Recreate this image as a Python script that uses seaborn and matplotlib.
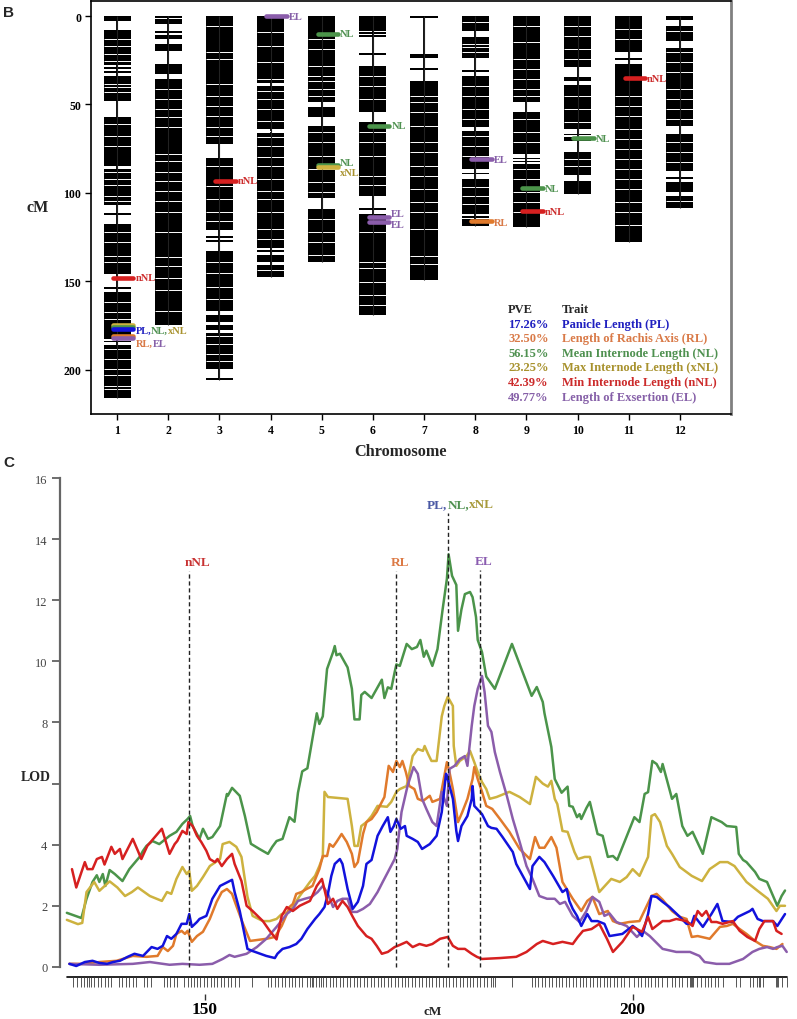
import numpy as np
import pandas as pd
import matplotlib
matplotlib.use('Agg')
import matplotlib.pyplot as plt
import matplotlib.transforms as mtransforms
import seaborn as sns

# ---------------- data: panel B (genetic map) ----------------
chromosomes = [1, 2, 3, 4, 5, 6, 7, 8, 9, 10, 11, 12]

chr1_blocks = [(0, 3), (7.7, 27.5), (28.8, 29.8), (31, 32), (33.7, 47.8), (57, 84.6), (86.4, 107),
               (111.5, 112.5), (117.5, 145.8), (153.3, 154.2), (155.8, 182.5), (183.5, 184.3), (186, 216)]
chr2_blocks = [(0, 1), (1.8, 4.5), (8.5, 9.5), (10.5, 13), (16, 19.5), (27, 33), (35.6, 174.6)]
chr3_blocks = [(0, 72.3), (80, 121), (124.5, 125.5), (126.5, 128), (133, 167), (169, 173), (174.5, 177.5),
               (179, 199.5), (204.5, 205.5)]
chr4_blocks = [(0, 38), (39.5, 64), (66, 131), (132.5, 133.5), (135, 139), (140.5, 147.5)]
chr5_blocks = [(0, 33.7), (34.5, 48.6), (51.6, 57), (62, 103), (109, 138.8)]
chr6_blocks = [(0, 8.3), (9, 10), (11, 12), (21, 22), (28, 54), (60, 101.5), (108.5, 109.5), (112, 169)]
chr7_blocks = [(0, 1), (21.5, 24), (29.5, 30.5), (36.5, 149.5)]
chr8_blocks = [(0, 8.3), (12, 24), (30.5, 31.5), (33.7, 63), (65, 86.4), (88.5, 89.5), (92, 112), (113, 114),
               (114.7, 118.5)]
chr9_blocks = [(0, 48.8), (54.4, 78), (80, 80.8), (82, 82.8), (83.6, 119)]
chr10_blocks = [(0, 29), (34.6, 36.5), (39, 63.8), (66.7, 67.5), (68.5, 70.4), (76.7, 90), (93, 100.5)]
chr11_blocks = [(0, 20.5), (24, 25), (27, 127.5)]
chr12_blocks = [(0, 2), (5.5, 14), (18, 62), (66.7, 87.4), (91, 92), (94, 99.5), (101.5, 108.6)]

chr1_white = [13, 16.8, 21.5, 25.2, 38.4, 40.3, 43.1, 61, 67.6, 73.2, 88.3, 92, 95.8, 101.5, 104.3, 122, 128,
              135.4, 139.2, 161.8, 167.4, 171.2, 188.1, 193.8, 199.4, 203.2, 208.9, 210.7]
chr2_white = [41.3, 47, 52.5, 57.3, 62.9, 78, 81.7, 88.3, 93, 98.7, 104.3, 110.9, 122.2, 136, 141.6, 148.2, 155, 167]
chr3_white = [5.5, 20.5, 24.3, 38.4, 45, 50.7, 56.3, 62.9, 67.6, 84.6, 95.9, 103.4, 110.9, 115.6, 139, 145,
              153.3, 160, 181, 185.6, 191, 195]
chr4_white = [9.2, 16.8, 26.2, 35.6, 42.2, 47, 52.5, 59.1, 65.2, 68.5, 73.2, 79.8, 84.6, 92, 98.7, 103.4, 110.9,
              120.3, 126, 143.5]
chr5_white = [13, 18.6, 28, 37, 41, 45, 65.7, 71.4, 78.9, 86.4, 94, 99.6, 114.7, 122.2, 127.9, 135]
chr6_white = [33.7, 39.4, 46.9, 65.7, 71.4, 78.9, 90.2, 95.8, 122.2, 139, 142.7, 150.3, 157.8, 163.5]
chr7_white = [45, 48.8, 54.4, 62, 71.4, 77, 84.6, 90.2, 97.7, 105.3, 110.9, 120.3, 135.4, 140]
chr8_white = [3.6, 15.8, 17.7, 20.5, 39.4, 45, 52.5, 58.2, 67.6, 73.2, 78.9, 96.8, 101.5, 106.2]
chr9_white = [5.5, 14.9, 24.3, 29.9, 35.6, 41.3, 45, 58.2, 65.7, 71.4, 86.4, 92, 99.6, 105.3, 110.9]
chr10_white = [5.5, 11.1, 18.6, 24.3, 45, 52.5, 60.1, 80.8, 84.6]
chr11_white = [7.4, 13, 45, 50.7, 56.3, 63.8, 69.5, 75.1, 80.8, 86.4, 92, 97.7, 105.3, 110.9, 118.4]
chr12_white = [8.5, 20.5, 26.2, 31.8, 41.3, 47, 52.5, 58.2, 71.4, 77, 82.7, 104.5]

qtl_b_chrom = [1, 1, 1, 1, 1, 1, 3, 4, 5, 5, 5, 6, 6, 6, 8, 8, 9, 9, 10, 11]
qtl_b_pos = [148.0, 174.6, 175.6, 176.7, 180.8, 181.8, 93.0, 0.0, 10.0, 84.0, 85.6, 62.0, 113.4, 116.3,
             81.0, 116.0, 97.4, 110.5, 69.0, 35.2]
qtl_b_trait = ['nNL', 'xNL', 'NL', 'PL', 'RL', 'EL', 'nNL', 'EL', 'NL', 'NL', 'xNL', 'NL', 'EL', 'EL',
               'EL', 'RL', 'NL', 'nNL', 'NL', 'nNL']

lab_b_chrom = [1, 1, 1, 3, 4, 5, 5, 5, 6, 6, 6, 8, 8, 9, 9, 10, 11]
lab_b_pos = [148.0, 177.6, 185.0, 93.0, 0.0, 10.0, 82.8, 88.3, 62.0, 111.5, 118.0, 81.0, 116.5, 97.4, 110.5,
             69.0, 35.2]
lab_b_text = ['nNL', 'PL,NL,xNL', 'RL,EL', 'nNL', 'EL', 'NL', 'NL', 'xNL', 'NL', 'EL', 'EL', 'EL', 'RL', 'NL',
              'nNL', 'NL', 'nNL']

legend_pve = ['17.26%', '32.50%', '56.15%', '23.25%', '42.39%', '49.77%']
legend_names = ['Panicle Length (PL)', 'Length of Rachis Axis (RL)', 'Mean Internode Length (NL)',
                'Max Internode Length (xNL)', 'Min Internode Length (nNL)', 'Length of Exsertion (EL)']

# ---------------- data: panel C (LOD profiles, chromosome 1) ----------------
traits = ['PL', 'RL', 'NL', 'xNL', 'nNL', 'EL']
line_colors = ['#1212dc', '#e07a2c', '#4b944a', '#cdb23f', '#d62020', '#8b5dab']
text_colors = ['#2020c0', '#d97a48', '#4f9150', '#a8922e', '#cc2b2b', '#8660a8']
c_label_colors = ['#4a58a4', '#dc7a46', '#4f9150', '#a89a3a', '#c83232', '#8a5cb0']

pl_cm = [134.2, 135.0, 136.0, 136.9, 137.7, 138.6, 139.3, 140.1, 141.0, 141.8, 142.8, 143.8, 144.5, 145.1, 145.6,
         146.1, 146.7, 147.3, 147.9, 148.2, 148.5, 149.1, 149.4, 150.2, 150.9, 151.8, 152.7, 153.2, 153.5, 154.1,
         155.0, 155.6, 157.2, 158.2, 158.5, 159.1, 159.9, 160.7, 161.3, 162.0, 162.9, 163.4, 164.0, 164.4, 164.8,
         165.2, 165.8, 166.1, 166.7, 167.3, 167.9, 168.5, 168.9, 169.5, 170.2, 170.8, 171.4, 171.7, 172.1, 172.4,
         172.9, 173.4, 173.6, 174.3, 174.9, 175.4, 176.3, 177.1, 177.7, 178.2, 178.4, 179.0, 179.4, 179.6, 180.0,
         180.7, 181.2, 181.3, 181.5, 182.4, 183.1, 183.5, 184.1, 184.8, 186.0, 186.4, 188.0, 188.3, 189.1, 189.7,
         190.7, 191.8, 192.3, 192.6, 193.0, 193.5, 194.0, 194.7, 195.2, 195.9, 196.7, 197.3, 198.8, 200.0, 200.5,
         201.1, 201.8, 202.2, 202.8, 203.5, 204.3, 205.5, 206.3, 206.9, 207.2, 208.2, 209.2, 209.9, 210.5, 211.7,
         212.3, 213.7, 214.0, 214.6, 215.2, 216.4, 216.9, 217.8]
pl_lod = [0.10, 0.03, 0.16, 0.20, 0.13, 0.10, 0.16, 0.20, 0.33, 0.43, 0.36, 0.65, 0.59, 0.69, 1.01,
          0.92, 1.08, 1.41, 1.41, 1.73, 1.31, 1.47, 1.57, 1.67, 2.23, 2.65, 2.78, 2.85, 2.45, 1.83,
          0.59, 0.52, 0.36, 0.29, 0.43, 0.59, 0.65, 0.75, 0.92, 1.24, 1.57, 1.73, 1.96, 2.39, 2.98,
          3.37, 3.53, 3.37, 2.55, 1.90, 2.13, 2.65, 3.37, 3.50, 4.29, 4.61, 4.90, 4.42, 4.61, 4.84,
          4.52, 4.61, 4.29, 4.19, 4.09, 3.86, 4.02, 4.29, 5.07, 6.32, 6.15, 5.50, 4.45, 4.12, 4.61,
          4.94, 5.50, 5.92, 5.27, 5.00, 4.61, 4.55, 4.52, 4.25, 3.76, 3.37, 2.55, 3.30, 3.60, 3.43,
          2.98, 2.45, 2.55, 2.16, 1.90, 1.67, 1.34, 1.73, 1.50, 1.50, 1.41, 1.01, 1.08, 1.34, 1.24,
          1.01, 1.73, 2.32, 2.29, 2.13, 1.96, 1.64, 1.41, 1.41, 1.67, 1.31, 1.73, 2.06, 1.50, 1.47,
          1.64, 1.83, 1.90, 1.57, 1.50, 1.50, 1.34, 1.73]

rl_cm = [134.2, 135.7, 137.7, 139.7, 141.6, 143.2, 144.5, 145.1, 145.7, 146.3, 146.7, 147.3, 147.7, 148.0, 148.5,
         149.1, 149.8, 150.6, 151.4, 152.0, 152.6, 153.2, 153.7, 154.4, 155.3, 157.2, 158.2, 159.0, 159.6, 159.9,
         160.3, 160.7, 161.3, 161.9, 162.6, 163.4, 163.8, 164.3, 164.6, 165.0, 165.4, 166.0, 166.6, 167.2, 167.5,
         167.9, 168.5, 168.9, 169.5, 170.1, 170.7, 171.0, 171.5, 172.0, 172.4, 172.8, 173.1, 173.5, 173.9, 174.5,
         174.9, 175.5, 176.3, 176.6, 177.5, 178.0, 178.3, 178.6, 179.0, 179.6, 180.1, 180.7, 181.3, 181.5, 181.9,
         182.4, 182.9, 183.6, 184.5, 185.6, 186.8, 188.0, 188.6, 189.1, 189.7, 190.5, 191.1, 191.8, 193.0, 194.0,
         194.7, 195.3, 196.1, 197.1, 197.7, 198.5, 199.6, 200.8, 202.2, 202.8, 203.5, 204.6, 205.5, 206.3, 206.9,
         207.6, 209.0, 210.2, 211.0, 211.7, 212.5, 213.3, 214.3, 215.2, 216.0, 216.8, 217.5]
rl_lod = [0.10, 0.10, 0.16, 0.20, 0.36, 0.33, 0.36, 0.65, 0.52, 0.69, 1.08, 1.18, 1.08, 1.18, 0.82,
          1.01, 1.15, 1.57, 2.13, 2.45, 2.55, 2.39, 2.00, 1.47, 0.85, 0.92, 0.98, 1.34, 1.73, 1.96,
          2.06, 2.39, 2.45, 2.55, 2.65, 3.20, 3.63, 3.63, 4.02, 3.93, 4.09, 4.35, 4.09, 3.70, 3.27,
          3.43, 4.35, 4.74, 4.84, 5.07, 5.40, 5.56, 6.58, 6.38, 6.74, 6.54, 6.74, 6.38, 5.92, 5.82,
          5.50, 5.43, 5.60, 5.40, 5.50, 6.25, 6.70, 6.38, 5.82, 4.74, 5.07, 5.50, 6.15, 6.54, 6.15,
          5.73, 5.27, 5.17, 4.84, 4.42, 3.86, 3.53, 4.25, 3.90, 3.90, 4.25, 3.90, 2.78, 2.23, 1.83,
          2.16, 2.29, 1.73, 1.83, 1.50, 1.41, 1.47, 1.50, 2.32, 2.39, 2.20, 1.83, 1.64, 1.57, 0.98,
          1.01, 0.92, 1.31, 1.34, 1.41, 1.24, 1.08, 0.85, 0.69, 0.65, 0.59, 0.75]

nl_cm = [133.9, 135.6, 136.2, 136.9, 137.4, 137.7, 138.1, 138.4, 138.9, 139.5, 140.4, 141.2, 141.8, 142.4, 142.8,
         143.2, 143.9, 144.7, 145.9, 146.7, 147.4, 148.0, 148.3, 148.6, 149.4, 149.8, 150.4, 150.9, 151.8, 152.6,
         152.7, 153.2, 154.1, 154.7, 155.4, 156.4, 157.4, 157.9, 158.4, 159.1, 159.9, 160.5, 160.9, 161.4, 162.0,
         163.1, 163.4, 163.8, 164.3, 165.0, 165.2, 165.4, 165.8, 166.7, 167.2, 167.5, 168.1, 168.3, 168.7, 169.5,
         170.7, 171.0, 171.4, 171.8, 172.2, 172.4, 172.8, 173.6, 174.2, 174.8, 175.2, 175.6, 175.9, 176.6, 177.2,
         177.8, 178.3, 178.5, 178.9, 179.4, 179.6, 180.0, 180.4, 181.0, 181.3, 181.7, 181.9, 182.4, 182.9, 183.9,
         185.9, 188.2, 188.8, 189.5, 189.7, 190.5, 190.9, 191.7, 192.4, 192.6, 193.0, 193.5, 193.8, 194.0, 194.6,
         195.0, 195.9, 196.5, 197.1, 197.7, 198.2, 200.2, 200.8, 201.4, 201.8, 202.3, 202.8, 203.3, 203.5, 204.6,
         205.1, 205.8, 206.4, 207.0, 208.2, 209.2, 210.4, 211.0, 212.1, 212.4, 212.9, 213.3, 214.3, 214.8, 215.7,
         216.4, 216.9, 217.4, 217.8]
nl_lod = [1.77, 1.60, 2.23, 2.78, 3.00, 2.78, 3.04, 2.65, 3.17, 3.04, 2.81, 3.20, 3.40, 3.60, 3.80,
          3.96, 4.12, 4.02, 4.29, 4.42, 4.68, 4.84, 4.94, 4.61, 4.19, 4.52, 4.19, 4.25, 4.61, 5.66,
          5.60, 5.86, 5.60, 4.94, 4.03, 3.86, 3.70, 3.93, 4.12, 4.19, 4.90, 4.75, 5.70, 6.40, 6.50,
          8.30, 7.95, 8.20, 9.75, 10.30, 10.50, 10.20, 10.25, 9.80, 9.10, 8.10, 8.10, 8.90, 9.00, 8.80,
          9.40, 8.80, 9.15, 9.10, 9.65, 9.90, 9.85, 10.57, 10.40, 10.47, 10.70, 10.15, 10.35, 9.85, 10.40,
          11.70, 12.70, 13.50, 12.80, 12.50, 11.00, 11.70, 12.20, 12.27, 12.10, 11.45, 10.70, 10.30, 9.50, 9.10,
          10.57, 8.87, 9.16, 8.67, 8.30, 7.20, 6.15, 5.70, 5.90, 5.27, 5.24, 4.90, 5.00, 4.84, 5.20,
          5.40, 4.35, 4.29, 3.60, 3.63, 3.50, 4.90, 4.74, 5.66, 5.72, 6.74, 6.64, 6.38, 6.64, 5.50,
          5.66, 4.61, 4.29, 4.42, 3.70, 4.90, 4.74, 4.61, 4.58, 3.70, 3.50, 3.43, 3.11, 2.88, 2.78,
          2.32, 2.00, 2.32, 2.50]

xnl_cm = [133.9, 135.2, 135.7, 136.2, 137.1, 137.7, 138.9, 139.8, 140.7, 141.5, 142.2, 143.6, 145.0, 145.6, 146.1,
          146.7, 147.4, 147.9, 148.2, 148.5, 149.1, 149.8, 150.6, 151.8, 152.1, 152.9, 153.7, 154.3, 155.0, 155.6,
          156.8, 157.6, 158.4, 159.0, 159.9, 161.1, 162.3, 162.9, 163.4, 163.8, 164.0, 164.4, 166.7, 167.2, 167.5,
          167.9, 168.3, 168.9, 169.5, 170.2, 171.3, 171.8, 172.4, 172.8, 173.6, 174.3, 174.9, 175.5, 175.7, 176.1,
          176.5, 177.1, 177.7, 178.0, 178.4, 179.0, 179.1, 179.4, 179.8, 180.1, 180.6, 181.0, 181.5, 181.9, 182.4,
          182.9, 183.3, 184.1, 185.6, 186.8, 188.0, 188.7, 189.5, 190.1, 190.5, 190.9, 191.2, 191.8, 192.4, 193.2,
          193.6, 194.4, 195.0, 196.1, 197.5, 198.5, 199.3, 200.0, 200.8, 201.8, 202.2, 202.6, 203.2, 204.0, 204.6,
          205.5, 206.9, 208.1, 209.0, 210.2, 211.1, 211.9, 213.3, 214.6, 215.8, 216.8, 217.2, 217.8]
xnl_lod = [1.54, 1.40, 1.44, 2.45, 2.78, 2.49, 2.80, 2.60, 2.32, 2.45, 2.60, 2.32, 2.16, 2.45, 2.39,
           2.88, 3.27, 3.04, 3.14, 2.49, 2.65, 2.94, 3.30, 3.53, 4.02, 4.09, 3.93, 3.60, 2.30, 1.67,
           1.50, 1.50, 1.57, 1.73, 1.80, 2.32, 2.78, 2.98, 3.30, 3.60, 5.73, 5.56, 5.50, 4.61, 3.96,
           3.96, 4.61, 4.74, 4.94, 5.27, 5.24, 5.40, 5.73, 5.82, 5.92, 6.90, 7.13, 7.07, 7.23, 6.97,
           6.74, 6.74, 8.20, 8.54, 8.84, 8.54, 7.23, 6.58, 6.74, 6.80, 6.90, 7.07, 6.70, 6.38, 6.05,
           5.82, 5.50, 5.56, 5.73, 5.56, 5.33, 6.22, 6.00, 5.90, 6.09, 5.50, 5.33, 4.45, 4.42, 3.76,
           3.53, 3.60, 3.60, 2.45, 2.88, 2.78, 2.94, 3.20, 2.98, 3.60, 4.94, 5.00, 4.74, 3.96, 3.70,
           3.27, 2.98, 2.81, 3.20, 3.43, 3.43, 3.30, 2.78, 2.49, 2.23, 1.83, 2.00, 2.00]

nnl_cm = [134.5, 135.0, 136.0, 136.3, 136.9, 137.4, 138.0, 138.3, 139.1, 139.5, 140.1, 140.4, 141.6, 142.2, 142.6,
          143.3, 145.0, 145.9, 146.5, 146.8, 147.4, 147.9, 148.1, 148.6, 149.1, 149.6, 150.2, 150.6, 151.2, 151.5,
          152.0, 152.6, 153.2, 153.5, 154.3, 154.9, 155.6, 156.8, 157.6, 158.4, 159.0, 159.6, 160.3, 161.1, 162.3,
          163.1, 163.7, 164.4, 165.0, 165.5, 166.1, 166.7, 167.3, 167.9, 168.9, 169.5, 170.1, 170.7, 171.4, 172.2,
          172.8, 173.6, 174.3, 175.1, 175.9, 176.6, 177.5, 178.4, 179.0, 179.6, 180.4, 181.2, 181.8, 182.4, 184.5,
          186.4, 187.6, 188.8, 189.5, 190.7, 191.8, 193.0, 193.6, 194.2, 195.2, 196.1, 197.0, 197.7, 198.8, 200.0,
          201.1, 201.8, 202.3, 203.5, 204.3, 205.1, 206.3, 207.0, 207.6, 208.1, 208.6, 209.2, 209.8, 210.5, 211.7,
          212.5, 213.4, 214.3, 214.8, 215.4, 216.4, 216.8, 217.4]
nnl_lod = [3.20, 2.60, 3.43, 3.20, 3.20, 3.53, 3.60, 3.35, 3.93, 3.70, 3.86, 3.53, 4.19, 3.80, 3.53,
           3.96, 4.52, 3.70, 4.02, 4.12, 4.45, 4.35, 4.74, 4.61, 4.29, 4.09, 3.80, 3.53, 3.43, 3.53,
           3.30, 3.53, 3.70, 3.37, 2.81, 2.00, 1.83, 1.50, 1.18, 0.90, 1.67, 1.96, 1.83, 2.00, 2.16,
           2.65, 2.88, 2.06, 2.23, 1.90, 2.16, 1.96, 1.64, 1.34, 1.01, 0.92, 0.69, 0.43, 0.49, 0.65,
           0.72, 0.82, 0.65, 0.75, 0.69, 0.75, 0.92, 0.98, 0.69, 0.59, 0.59, 0.43, 0.33, 0.26, 0.29,
           0.33, 0.49, 0.75, 0.85, 0.75, 0.82, 0.75, 0.98, 1.18, 1.24, 1.41, 0.92, 0.49, 0.82, 1.31,
           1.15, 1.64, 1.24, 1.50, 1.50, 1.57, 1.50, 1.34, 1.83, 1.67, 1.83, 1.47, 1.47, 1.41, 1.50,
           1.18, 0.98, 0.85, 1.24, 1.50, 1.50, 1.18, 1.08]

el_cm = [134.2, 137.7, 141.6, 143.6, 145.9, 147.4, 149.4, 150.9, 152.1, 152.9, 153.5, 154.9, 156.1, 157.2, 158.4,
         159.6, 160.3, 160.9, 161.7, 162.5, 163.2, 163.8, 164.4, 165.0, 165.5, 166.1, 166.7, 167.2, 167.8, 168.5,
         169.3, 170.2, 170.8, 171.4, 172.2, 172.5, 173.0, 173.7, 174.4, 174.9, 175.4, 175.9, 176.6, 177.1, 177.7,
         178.3, 178.6, 179.2, 179.8, 180.4, 180.7, 181.2, 181.5, 181.9, 182.4, 182.7, 183.1, 183.5, 183.9, 184.5,
         185.3, 186.0, 186.8, 187.6, 188.3, 189.1, 190.0, 190.9, 191.5, 192.1, 193.0, 193.8, 194.6, 195.3, 196.1,
         196.7, 197.3, 198.1, 199.3, 200.5, 201.2, 202.0, 203.5, 205.1, 206.7, 207.8, 208.4, 209.8, 211.3, 212.9,
         214.0, 214.8, 215.7, 216.4, 216.9, 217.5, 218.0]
el_lod = [0.10, 0.07, 0.10, 0.16, 0.07, 0.10, 0.07, 0.10, 0.26, 0.39, 0.33, 0.43, 0.65, 0.92, 1.31,
          1.73, 1.90, 2.16, 2.23, 2.29, 2.45, 2.65, 2.39, 1.96, 2.16, 2.23, 2.23, 1.80, 1.80, 1.90,
          2.06, 2.45, 2.78, 3.10, 3.53, 3.86, 5.07, 5.92, 6.54, 6.32, 5.50, 5.17, 4.74, 4.61, 5.73,
          5.27, 6.48, 6.58, 6.80, 6.90, 6.58, 7.89, 8.54, 9.10, 9.52, 9.00, 7.89, 7.69, 7.03, 6.38,
          5.60, 4.84, 4.09, 3.30, 2.88, 2.32, 2.23, 2.23, 2.06, 2.13, 1.67, 1.47, 1.83, 2.29, 2.13,
          1.67, 1.75, 1.47, 1.34, 0.98, 1.18, 1.01, 0.59, 0.49, 0.49, 0.36, 0.16, 0.10, 0.10, 0.26,
          0.49, 0.59, 0.65, 0.59, 0.65, 0.69, 0.49]

qtl_c_pos = [148.2, 172.4, 178.4, 182.2]
qtl_c_top = [12.95, 12.95, 14.85, 13.0]
qtl_c_label_left = [147.6, 171.7, 176.0, 181.6]
qtl_c_label = ['nNL', 'RL', 'PL,NL,xNL', 'EL']

lod_ticks = [0, 2, 4, 6, 8, 10, 12, 14, 16]
lod_tick_labels = ['0', '2', '4', '', '8', '10', '12', '14', '16']
cm_ticks = [150, 200]

rug_markers = [134.6, 135.1, 135.5, 135.9, 136.3, 136.5, 136.7, 137.1, 137.5, 137.9, 138.3, 138.7, 139.1, 140.0,
               140.4, 140.8, 141.2, 141.6, 142.0, 142.9, 143.3, 143.7, 145.2, 145.6, 146.0, 146.4, 146.8, 147.6,
               148.0, 148.4, 148.8, 149.1, 149.5, 149.9, 150.3, 150.7, 151.1, 151.5, 151.9, 152.3, 152.7, 153.1,
               153.5, 154.0, 155.5, 157.4, 157.8, 158.2, 158.6, 159.0, 159.4, 159.8, 160.2, 160.6, 161.0, 161.4,
               161.9, 162.3, 162.5, 162.7, 163.0, 163.4, 163.6, 163.8, 164.2, 164.6, 165.0, 165.4, 165.8, 166.2,
               166.6, 167.0, 167.4, 167.8, 168.2, 168.6, 169.0, 169.4, 169.8, 170.2, 170.6, 171.0, 171.4, 171.8,
               172.2, 172.6, 173.0, 173.4, 173.8, 174.2, 174.6, 175.0, 175.4, 175.8, 176.2, 176.6, 177.0, 177.4,
               177.8, 178.2, 178.6, 179.0, 179.4, 179.8, 180.2, 180.6, 181.0, 181.4, 181.8, 182.2, 182.6, 183.0,
               183.5, 183.7, 183.9, 185.9, 188.2, 188.6, 189.0, 189.4, 189.8, 190.2, 190.6, 191.0, 191.4, 191.8,
               192.2, 192.6, 193.0, 193.4, 193.8, 194.2, 194.6, 195.0, 195.4, 195.8, 196.2, 196.6, 197.0, 197.4,
               197.8, 198.2, 198.6, 199.0, 199.6, 200.2, 200.6, 201.0, 201.4, 201.8, 202.2, 202.6, 203.0, 203.4,
               204.0, 204.6, 205.0, 205.4, 205.8, 206.3, 206.7, 206.8, 206.9, 207.0, 207.5, 208.0, 208.4, 208.8,
               209.2, 209.6, 210.0, 210.5, 212.1, 212.5, 213.7, 214.1, 214.5, 214.8, 214.9, 215.2, 216.8, 216.9,
               217.0, 217.4, 218.0]

# ---------------- styling ----------------
sns.set_theme(style='white')
plt.rcParams['font.family'] = ['Liberation Serif', 'DejaVu Serif']
plt.rcParams['axes.unicode_minus'] = False

line_color = dict(zip(traits, line_colors))
text_color = dict(zip(traits, text_colors))
clabel_color = dict(zip(traits, c_label_colors))

W, H = 797, 1020
fig = plt.figure(figsize=(W / 100, H / 100), dpi=100)
fig.patch.set_facecolor('white')


def split_label(txt):
    names = txt.split(',')
    parts = [n + ',' for n in names[:-1]] + [names[-1]]
    return parts, names


def multicolor(ax, x, y, txt, cmap, size):
    parts, names = split_label(txt)
    prev = ax.text(x, y, parts[0], fontsize=size, fontweight='bold', color=cmap[names[0]],
                   ha='left', va='center')
    for p, n in zip(parts[1:], names[1:]):
        prev = ax.annotate(p, xy=(1, 0), xycoords=prev, ha='left', va='bottom',
                           fontsize=size, fontweight='bold', color=cmap[n], annotation_clip=False)

# ================= Panel B =================
axB = fig.add_axes([91 / W, 1 - 415 / H, 640 / W, 413 / H])
all_blocks = [chr1_blocks, chr2_blocks, chr3_blocks, chr4_blocks, chr5_blocks, chr6_blocks,
              chr7_blocks, chr8_blocks, chr9_blocks, chr10_blocks, chr11_blocks, chr12_blocks]
all_white = [chr1_white, chr2_white, chr3_white, chr4_white, chr5_white, chr6_white,
             chr7_white, chr8_white, chr9_white, chr10_white, chr11_white, chr12_white]
bw = 0.53
for c, blocks, whites in zip(chromosomes, all_blocks, all_white):
    length = max(b[1] for b in blocks)
    axB.vlines(c, 0, length, color='black', lw=1.3, zorder=1)
    axB.bar([c] * len(blocks), [b[1] - b[0] for b in blocks], bottom=[b[0] for b in blocks],
            width=bw, color='black', linewidth=0, zorder=2)
    axB.hlines(whites, c - bw / 2, c + bw / 2, color='white', lw=0.7, zorder=3)
    axB.vlines(c, 0, length, color='#222222', lw=0.8, zorder=3.5)

for c, p, t in zip(qtl_b_chrom, qtl_b_pos, qtl_b_trait):
    axB.plot([c - 0.08, c + 0.32], [p, p], color=line_color[t], lw=3.3,
             solid_capstyle='round', zorder=5)

for c, p, txt in zip(lab_b_chrom, lab_b_pos, lab_b_text):
    multicolor(axB, c + 0.36, p, txt, text_color, 7.5)

axB.set_xlim(0.49, 13.0)
axB.set_ylim(225, -8.5)
axB.set_xticks(chromosomes)
axB.set_xticklabels([str(c) for c in chromosomes], fontweight='bold', fontsize=8.5)
axB.set_yticks([0, 50, 100, 150, 200])
axB.set_yticklabels(['0', '50', '100', '150', '200'], fontweight='bold', fontsize=8.5)
axB.tick_params(axis='both', which='both', bottom=True, left=True, direction='out', length=4.5,
                width=1, color='black', pad=2.5, labelcolor='black')
for s in ['left', 'bottom', 'top']:
    axB.spines[s].set_color('black')
    axB.spines[s].set_linewidth(1.2)
axB.spines['right'].set_color('#808080')
axB.spines['right'].set_linewidth(2)
axB.set_facecolor('white')
axB.text(-0.083, 0.501, 'cM', transform=axB.transAxes, fontsize=11.5, fontweight='bold',
         ha='center', va='center')
axB.text(0.483, -0.0896, 'Chromosome', transform=axB.transAxes, fontsize=11.7, fontweight='bold',
         ha='center', va='center')

# legend text
axB.text(0.652, 0.254, 'PVE', transform=axB.transAxes, fontsize=9, fontweight='bold', va='center')
axB.text(0.736, 0.254, 'Trait', transform=axB.transAxes, fontsize=9, fontweight='bold', va='center')
row_y = [0.218, 0.183, 0.148, 0.113, 0.077, 0.042]
for t, pve, name, yy in zip(traits, legend_pve, legend_names, row_y):
    axB.text(0.652, yy, pve, transform=axB.transAxes, fontsize=9, fontweight='bold',
             color=text_color[t], va='center')
    axB.text(0.736, yy, name, transform=axB.transAxes, fontsize=9, fontweight='bold',
             color=text_color[t], va='center')

# ================= Panel C =================
axC = fig.add_axes([60 / W, 1 - 978 / H, 731 / W, 499 / H])
# spine positioning first (it resets tick objects)
axC.spines['top'].set_visible(False)
axC.spines['right'].set_visible(False)
axC.spines['bottom'].set_position(('outward', 12))
axC.spines['bottom'].set_color('none')
axC.spines['left'].set_color('#666666')
axC.spines['left'].set_linewidth(1.6)

frames = []
for t, xs, ys in zip(traits, [pl_cm, rl_cm, nl_cm, xnl_cm, nnl_cm, el_cm],
                     [pl_lod, rl_lod, nl_lod, xnl_lod, nnl_lod, el_lod]):
    frames.append(pd.DataFrame({'cM': xs, 'LOD': ys, 'trait': t}))
df = pd.concat(frames, ignore_index=True)
draw_order = ['NL', 'xNL', 'RL', 'EL', 'PL', 'nNL']
sns.lineplot(data=df, x='cM', y='LOD', hue='trait', hue_order=draw_order, palette=line_color,
             estimator=None, sort=False, lw=1.8, legend=False, ax=axC)

axC.vlines(qtl_c_pos, 0, qtl_c_top, colors='#222222', linestyles=(0, (3, 2)), lw=1.0, zorder=6)
for left, top, txt in zip(qtl_c_label_left, qtl_c_top, qtl_c_label):
    multicolor(axC, left, top + 0.3, txt, clabel_color, 9.5)

axC.set_xlim(133.1, 218.5)
axC.set_ylim(-0.33, 16)
axC.spines['left'].set_bounds(0, 16)
blend = mtransforms.blended_transform_factory(axC.transData, axC.transAxes)
axC.plot([df['cM'].min(), df['cM'].max()], [0, 0], transform=blend, color='black', lw=1.2,
         clip_on=False)
axC.vlines(rug_markers, -0.02, 0, transform=blend, colors='#3a3a3a', lw=0.6, clip_on=False)

axC.set_yticks(lod_ticks)
axC.set_yticklabels(lod_tick_labels, fontsize=9, color='#444444')
axC.set_xticks(cm_ticks)
axC.set_xticklabels([str(v) for v in cm_ticks], fontsize=12.5, fontweight='bold', color='black')
axC.tick_params(axis='y', left=True, direction='out', length=6, width=1.2, color='#555555', pad=3)
axC.tick_params(axis='x', bottom=True, direction='out', length=4, width=1, color='#333333', pad=1.5)
axC.set_xlabel('')
axC.set_ylabel('')
axC.set_facecolor('white')
axC.text(0.51, -0.068, 'cM', transform=axC.transAxes, fontsize=9.5, fontweight='bold',
         ha='center', va='center')
axC.text(-0.033, 0.401, 'LOD', transform=axC.transAxes, fontsize=10, fontweight='bold',
         ha='center', va='center')

# panel letters
fig.text(3 / W, 1 - 13 / H, 'B', fontsize=11, fontweight='bold', family=['Liberation Sans', 'DejaVu Sans'],
         ha='left', va='center')
fig.text(3 / W, 1 - 463 / H, 'C', fontsize=11, fontweight='bold', family=['Liberation Sans', 'DejaVu Sans'],
         ha='left', va='center')

fig.savefig('out.png', dpi=100, facecolor='white')
